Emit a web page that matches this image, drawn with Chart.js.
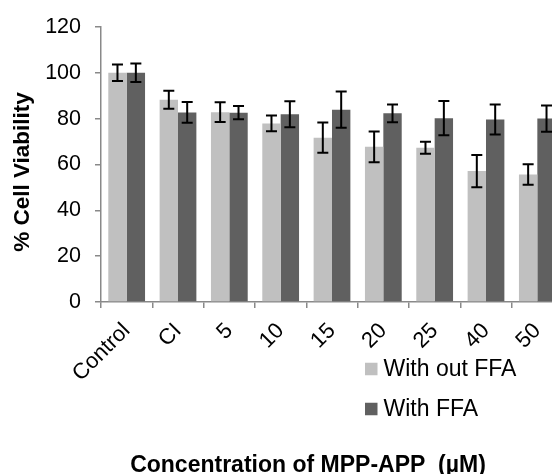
<!DOCTYPE html>
<html>
<head>
<meta charset="utf-8">
<script src="https://cdn.jsdelivr.net/npm/chart.js@4/dist/chart.umd.min.js"></script>
<style>
  html, body { margin: 0; padding: 0; overflow: hidden; background: #fff; }
  #wrap { width: 552px; height: 474px; overflow: hidden; }
  canvas { display: block; }
</style>
</head>
<body>
<div id="wrap"><canvas id="c" width="566" height="474"></canvas></div>
<script>
const categories = ['Control', 'CI', '5', '10', '15', '20', '25', '40', '50'];
const withoutFFA = [100, 88.2, 82.8, 77.9, 71.7, 67.7, 67.3, 57.1, 55.6];
const withoutFFAErr = [3.6, 3.9, 4.3, 3.4, 6.6, 6.7, 2.6, 7.0, 4.5];
const withFFA = [100, 82.7, 82.6, 81.9, 83.9, 82.3, 80.2, 79.6, 80.0];
const withFFAErr = [4.0, 4.5, 2.9, 5.7, 7.9, 3.9, 7.5, 6.5, 5.7];
const seriesLabels = ['With out FFA', 'With FFA'];
const yTitle = '% Cell Viability';
const xTitle = 'Concentration of MPP-APP  (\u00B5M)';

const FONT = '"Liberation Sans", Arial, Helvetica, sans-serif';
const AXIS = '#898989';

const errorBars = {
  id: 'errorBars',
  afterDatasetsDraw(chart) {
    const ctx = chart.ctx;
    const y = chart.scales.y;
    ctx.save();
    ctx.strokeStyle = '#000';
    ctx.lineWidth = 2;
    chart.data.datasets.forEach((ds, i) => {
      const meta = chart.getDatasetMeta(i);
      meta.data.forEach((bar, j) => {
        const v = ds.data[j], e = ds.errors[j];
        const top = y.getPixelForValue(v + e);
        const bot = y.getPixelForValue(v - e);
        const x = bar.x, w = 5.5;
        ctx.beginPath();
        ctx.moveTo(x, top); ctx.lineTo(x, bot);
        ctx.moveTo(x - w, top); ctx.lineTo(x + w, top);
        ctx.moveTo(x - w, bot); ctx.lineTo(x + w, bot);
        ctx.stroke();
      });
    });
    ctx.restore();
  }
};

const annotations = {
  id: 'annotations',
  afterDraw(chart, args, opts) {
    const ctx = chart.ctx;
    ctx.save();
    // legend
    ctx.font = opts.fontSize + 'px ' + FONT;
    ctx.textBaseline = 'middle';
    ctx.textAlign = 'left';
    chart.data.datasets.forEach((ds, i) => {
      const cy = opts.top + i * opts.spacing;
      ctx.fillStyle = ds.backgroundColor;
      ctx.fillRect(opts.left, cy - opts.box / 2, opts.box, opts.box);
      ctx.fillStyle = '#000';
      ctx.fillText(ds.label, opts.left + opts.box + 6, cy + 1);
    });
    // x axis title
    ctx.font = 'bold ' + opts.xTitleSize + 'px ' + FONT;
    ctx.textAlign = 'center';
    ctx.textBaseline = 'alphabetic';
    ctx.fillText(opts.xTitle, opts.xTitleX, opts.xTitleY);
    // y axis title
    ctx.font = 'bold ' + opts.yTitleSize + 'px ' + FONT;
    ctx.textBaseline = 'middle';
    ctx.translate(opts.yTitleX, opts.yTitleY);
    ctx.rotate(-Math.PI / 2);
    ctx.fillText(opts.yTitle, 0, 0);
    ctx.restore();
  }
};

new Chart(document.getElementById('c'), {
  type: 'bar',
  data: {
    labels: categories,
    datasets: [
      { label: seriesLabels[0], data: withoutFFA, errors: withoutFFAErr, backgroundColor: '#C0C0C0' },
      { label: seriesLabels[1], data: withFFA, errors: withFFAErr, backgroundColor: '#606060' }
    ]
  },
  options: {
    responsive: false,
    animation: false,
    layout: { padding: { top: 23, left: 0, right: 0, bottom: 0 } },
    categoryPercentage: 0.716,
    barPercentage: 1.0,
    plugins: {
      legend: { display: false },
      tooltip: { enabled: false },
      annotations: { left: 365, top: 369, spacing: 40, box: 12.5, fontSize: 23,
                     xTitle: xTitle, xTitleX: 308, xTitleY: 472, xTitleSize: 23,
                     yTitle: yTitle, yTitleX: 23, yTitleY: 172, yTitleSize: 22.5 }
    },
    scales: {
      x: {
        afterFit(s) { s.height = 172; },
        border: { display: true, color: AXIS, width: 1.5 },
        grid: { display: true, drawOnChartArea: false, drawTicks: true, tickLength: 6, color: AXIS, lineWidth: 1.5, offset: true },
        ticks: { color: '#000', font: { family: FONT, size: 22 }, minRotation: 45, maxRotation: 45, padding: 10, autoSkip: false }
      },
      y: {
        min: 0, max: 120,
        afterFit(s) { s.width = 101; },
        border: { display: true, color: AXIS, width: 1.5 },
        grid: { display: true, drawOnChartArea: false, drawTicks: true, tickLength: 6, color: AXIS, lineWidth: 1.5 },
        ticks: { stepSize: 20, color: '#000', font: { family: FONT, size: 21.5 }, padding: 14 }
      }
    }
  },
  plugins: [errorBars, annotations]
});
</script>
</body>
</html>
